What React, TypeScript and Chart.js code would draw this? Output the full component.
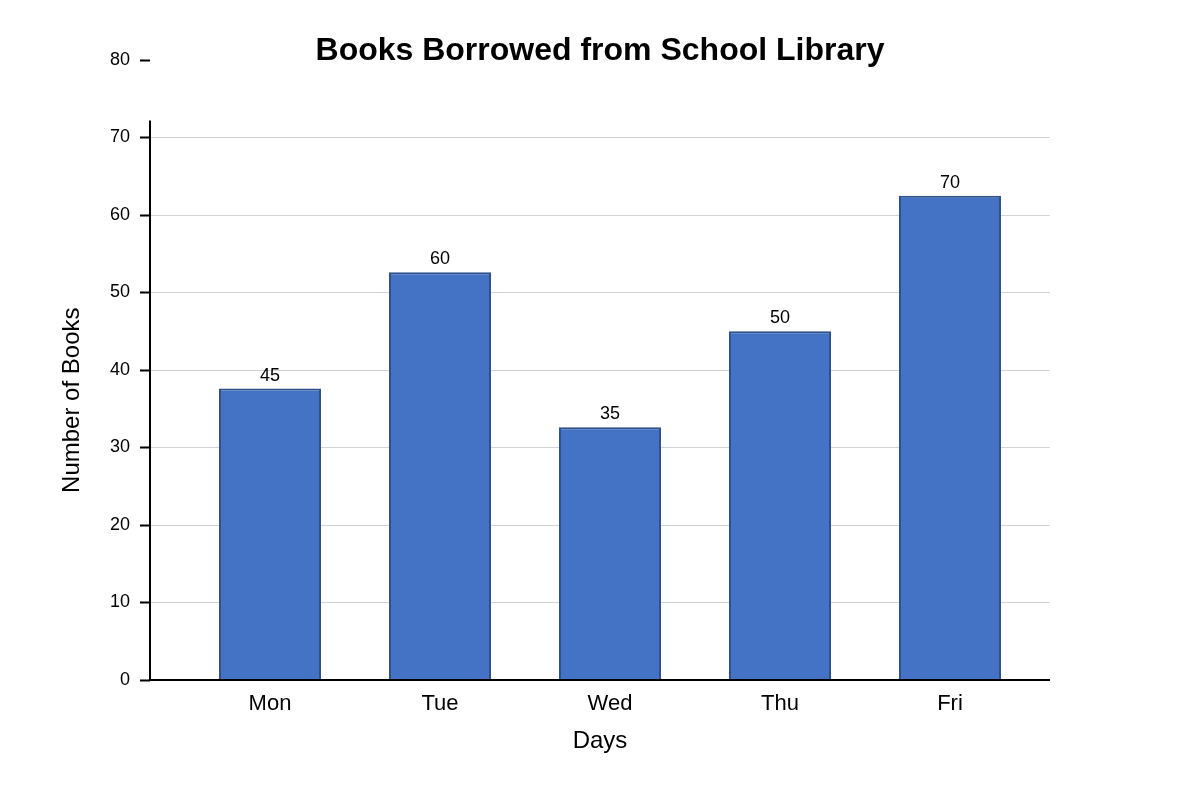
import { useEffect, useRef } from 'react';
import { Chart, registerables, Plugin } from 'chart.js';

Chart.register(...registerables);

const days = ['Mon', 'Tue', 'Wed', 'Thu', 'Fri'];
// bar heights as drawn on the axis
const barHeights = [37.6, 52.6, 32.6, 45, 62.5];
// numbers printed above each bar
const barLabels = [45, 60, 35, 50, 70];
const yTicks = [0, 10, 20, 30, 40, 50, 60, 70, 80];

const FONT = "'Liberation Sans', Arial, sans-serif";
const AXIS_TOP = 72.2;

const extras: Plugin<'bar'> = {
  id: 'extras',
  afterDraw(chart) {
    const { ctx, chartArea, scales } = chart;
    const y = scales.y;
    const top = y.getPixelForValue(AXIS_TOP);
    const bottom = y.getPixelForValue(0);
    ctx.save();
    // title
    ctx.fillStyle = '#000';
    ctx.font = `bold 32px ${FONT}`;
    ctx.textAlign = 'center';
    ctx.textBaseline = 'middle';
    ctx.fillText('Books Borrowed from School Library', 600, 51);

    // y axis title
    ctx.save();
    ctx.translate(72, (top + bottom) / 2);
    ctx.rotate(-Math.PI / 2);
    ctx.font = `24px ${FONT}`;
    ctx.fillText('Number of Books', 0, 0);
    ctx.restore();

    // axis lines
    ctx.strokeStyle = '#000';
    ctx.lineWidth = 2;
    ctx.beginPath();
    ctx.moveTo(chartArea.left, top);
    ctx.lineTo(chartArea.left, bottom + 1);
    ctx.moveTo(chartArea.left - 1, bottom);
    ctx.lineTo(chartArea.right, bottom);
    ctx.stroke();

    // value labels
    ctx.font = `18px ${FONT}`;
    ctx.textBaseline = 'bottom';
    const meta = chart.getDatasetMeta(0);
    meta.data.forEach((bar, i) => {
      ctx.fillText(String(barLabels[i]), bar.x, bar.y - 4);
    });
    ctx.restore();
  },
};

export default function App() {
  const canvasRef = useRef<HTMLCanvasElement>(null);

  useEffect(() => {
    if (!canvasRef.current) return;
    const chart = new Chart(canvasRef.current, {
      type: 'bar',
      data: {
        datasets: [
          {
            data: barHeights.map((v, i) => ({ x: i, y: v })),
            backgroundColor: '#4472C4',
            borderColor: '#2F528F',
            borderWidth: 2,
            categoryPercentage: 1,
            barPercentage: 102 / 170,
          },
        ],
      },
      options: {
        animation: false,
        responsive: false,
        layout: { padding: { left: 0, top: 60, right: 150, bottom: 0 } },
        plugins: {
          legend: { display: false },
          tooltip: { enabled: false },
          title: { display: false },
        },
        scales: {
          x: {
            type: 'linear',
            min: -120 / 170,
            max: 4 + 100 / 170,
            offset: false,
            border: { display: false },
            grid: { display: false, drawTicks: false },
            afterBuildTicks: (scale) => {
              scale.ticks = days.map((_, i) => ({ value: i }));
            },
            ticks: {
              color: '#000',
              font: { family: FONT, size: 22 },
              padding: 11,
              callback: (v) => days[Number(v)] ?? '',
            },
            title: {
              display: true,
              text: 'Days',
              color: '#000',
              font: { family: FONT, size: 24 },
              padding: { top: 0, bottom: 44 },
            },
            afterFit: (scale) => {
              scale.height = 120;
            },
          },
          y: {
            min: 0,
            max: 80,
            border: { display: false },
            afterBuildTicks: (scale) => {
              scale.ticks = yTicks.map((v) => ({ value: v }));
            },
            grid: {
              color: (c) =>
                c.tick && c.tick.value > 0 && c.tick.value < 80 ? '#d3d3d3' : 'rgba(0,0,0,0)',
              lineWidth: 1,
              tickColor: '#000',
              tickLength: 10,
              tickWidth: 2,
            },
            ticks: { color: '#000', font: { family: FONT, size: 18 }, padding: 10 },
            afterFit: (scale) => {
              scale.width = 150;
            },
          },
        },
      },
      plugins: [extras],
    });
    return () => chart.destroy();
  }, []);

  return (
    <div style={{ position: 'absolute', left: 0, top: 0, width: 1200, height: 800, background: '#fff' }}>
      <canvas ref={canvasRef} width={1200} height={800} />
    </div>
  );
}
